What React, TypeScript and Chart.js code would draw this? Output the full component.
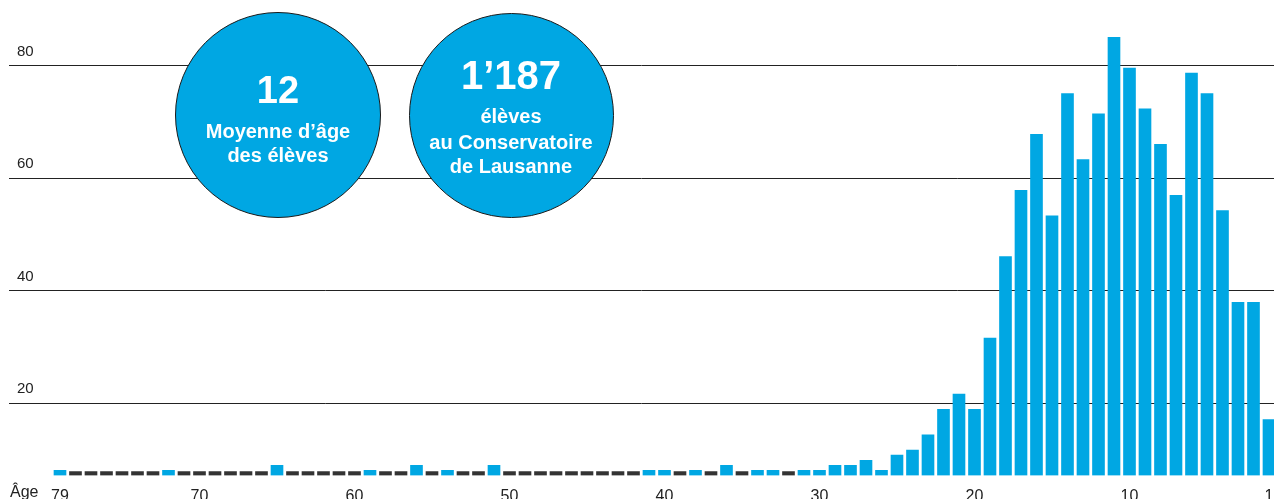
import React, { useEffect, useRef } from "react";
import { Chart, registerables } from "chart.js";

Chart.register(...registerables);

// Age of the students (x axis, from oldest to youngest)
const ages = [
  79, 78, 77, 76, 75, 74, 73, 72, 71, 70,
  69, 68, 67, 66, 65, 64, 63, 62, 61, 60,
  59, 58, 57, 56, 55, 54, 53, 52, 51, 50,
  49, 48, 47, 46, 45, 44, 43, 42, 41, 40,
  39, 38, 37, 36, 35, 34, 33, 32, 31, 30,
  29, 28, 27, 26, 25, 24, 23, 22, 21, 20,
  19, 18, 17, 16, 15, 14, 13, 12, 11, 10,
  9, 8, 7, 6, 5, 4, 3, 2, 1,
];

// Number of students per age
const students = [
  1, 0, 0, 0, 0, 0, 0, 1, 0, 0,
  0, 0, 0, 0, 2, 0, 0, 0, 0, 0,
  1, 0, 0, 2, 0, 1, 0, 0, 2, 0,
  0, 0, 0, 0, 0, 0, 0, 0, 1, 1,
  0, 1, 0, 2, 0, 1, 1, 0, 1, 1,
  2, 2, 3, 1, 4, 5, 8, 13, 16, 13,
  27, 43, 56, 67, 51, 75, 62, 71, 86, 80,
  72, 65, 55, 79, 75, 52, 34, 34, 11,
];

const xTickValues = [79, 70, 60, 50, 40, 30, 20, 10, 1];
const gridTickValues = [20, 40, 60, 80];
const axisLabel = "Âge";

const circleAgeLines = ["12", "Moyenne d’âge", "des élèves"];
const circleCountLines = ["1’187", "élèves", "au Conservatoire", "de Lausanne"];

const BLUE = "#00a7e3";
const DARK = "#222222";
const FONT = "'Liberation Sans', Arial, sans-serif";

function TextLine(props: { text: string; cx: number; baseline: number; size: number }) {
  const { text, cx, baseline, size } = props;
  return (
    <div
      style={{
        position: "absolute",
        left: cx - 150,
        width: 300,
        top: baseline - 0.8465 * size,
        fontSize: size,
        lineHeight: `${size}px`,
        textAlign: "center",
        color: "#ffffff",
        fontWeight: 700,
        whiteSpace: "nowrap",
        fontFamily: FONT,
      }}
    >
      {text}
    </div>
  );
}

function Circle(props: { cx: number; cy: number; d: number }) {
  const { cx, cy, d } = props;
  return (
    <div
      style={{
        position: "absolute",
        left: cx - d / 2,
        top: cy - d / 2,
        width: d,
        height: d,
        borderRadius: "50%",
        background: BLUE,
        border: "1px solid #1a1a1a",
        boxSizing: "border-box",
      }}
    />
  );
}

const noPadding = (s: any) => {
  s.paddingTop = 0;
  s.paddingBottom = 0;
  s.paddingLeft = 0;
  s.paddingRight = 0;
};

export default function App() {
  const ref = useRef<HTMLCanvasElement>(null);

  useEffect(() => {
    if (!ref.current) return;
    const chart = new Chart(ref.current, {
      type: "bar",
      data: {
        datasets: [
          {
            data: ages.map((a, i) => ({ x: a, y: students[i] })),
            backgroundColor: students.map((v) => (v === 0 ? "#333333" : BLUE)),
            barThickness: 12,
            minBarLength: 4,
            xAxisID: "x",
            yAxisID: "y",
          } as any,
        ],
      },
      options: {
        responsive: false,
        animation: false,
        layout: { padding: 0 },
        plugins: {
          legend: { display: false },
          tooltip: { enabled: false },
          title: { display: false },
        },
        scales: {
          x: {
            type: "linear",
            reverse: true,
            min: 0.677,
            max: 82.29,
            offset: false,
            grid: { display: false },
            border: { display: false },
            ticks: {
              color: DARK,
              font: { size: 16, family: FONT },
              padding: 3,
              maxRotation: 0,
              autoSkip: false,
              callback: (v: any) => String(v),
            },
            afterBuildTicks: (s: any) => {
              s.ticks = xTickValues.map((v) => ({ value: v }));
            },
            afterFit: (s: any) => {
              s.height = 23.5;
              noPadding(s);
            },
          },
          y: {
            display: false,
            min: 0,
            max: 93.35,
            afterFit: noPadding,
          },
          yGrid: {
            type: "linear",
            position: "left",
            min: 7.16,
            max: 91.67,
            grid: { color: DARK, lineWidth: 1, drawTicks: false },
            border: { display: false },
            ticks: {
              mirror: true,
              padding: 8,
              labelOffset: -14,
              color: DARK,
              font: { size: 15, family: FONT },
              callback: (v: any) => String(v),
            },
            afterBuildTicks: (s: any) => {
              s.ticks = gridTickValues.map((v) => ({ value: v }));
            },
            afterFit: (s: any) => {
              s.width = 9;
              noPadding(s);
            },
          },
        } as any,
      },
    });
    return () => chart.destroy();
  }, []);

  return (
    <div
      style={{
        position: "absolute",
        left: 0,
        top: 0,
        width: 1274,
        height: 499,
        overflow: "hidden",
        background: "#ffffff",
        fontFamily: FONT,
      }}
    >
      <canvas
        ref={ref}
        width={1274}
        height={499}
        style={{ position: "absolute", left: 0, top: 0, width: 1274, height: 499, display: "block" }}
      />
      <Circle cx={278} cy={115} d={206} />
      <Circle cx={511} cy={115} d={205} />
      <TextLine text={circleAgeLines[0]} cx={278} baseline={103} size={38} />
      <TextLine text={circleAgeLines[1]} cx={278} baseline={138} size={20} />
      <TextLine text={circleAgeLines[2]} cx={278} baseline={162} size={20} />
      <TextLine text={circleCountLines[0]} cx={511} baseline={89} size={40} />
      <TextLine text={circleCountLines[1]} cx={511} baseline={123} size={20} />
      <TextLine text={circleCountLines[2]} cx={511} baseline={149} size={20} />
      <TextLine text={circleCountLines[3]} cx={511} baseline={173} size={20} />
      <div
        style={{
          position: "absolute",
          left: 10,
          top: 498 - 0.8465 * 16,
          fontSize: 16,
          lineHeight: "16px",
          color: DARK,
          fontFamily: FONT,
          whiteSpace: "nowrap",
        }}
      >
        {axisLabel}
      </div>
    </div>
  );
}
